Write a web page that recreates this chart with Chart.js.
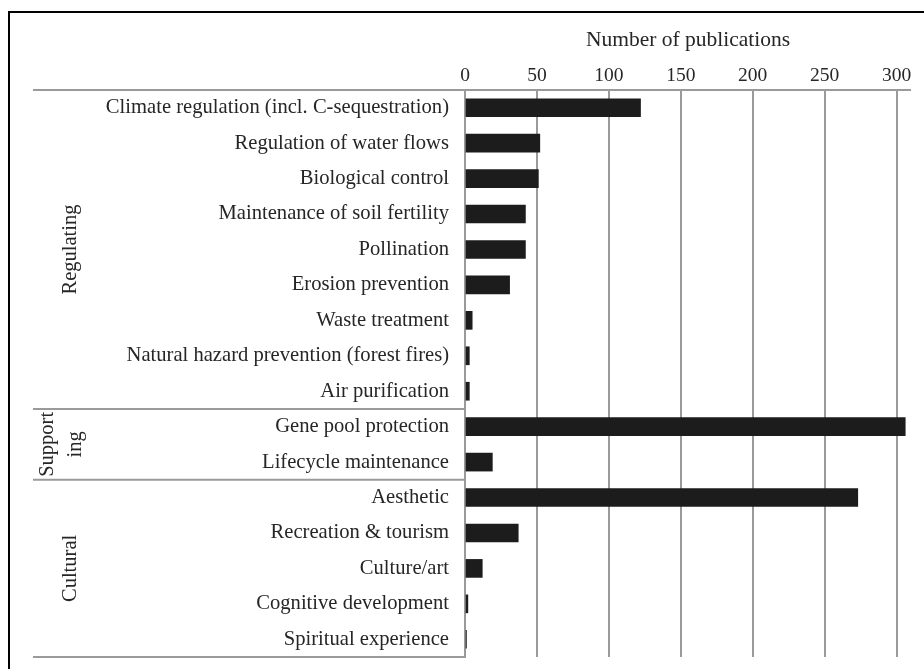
<!DOCTYPE html>
<html>
<head>
<meta charset="utf-8">
<script src="https://cdn.jsdelivr.net/npm/chart.js@4/dist/chart.umd.min.js"></script>
<style>
html,body{margin:0;padding:0;background:#fff;}
canvas{display:block;}
</style>
</head>
<body>
<canvas id="c" width="924" height="669"></canvas>
<script>
const categories = [
  "Climate regulation (incl. C-sequestration)",
  "Regulation of water flows",
  "Biological control",
  "Maintenance of soil fertility",
  "Pollination",
  "Erosion prevention",
  "Waste treatment",
  "Natural hazard prevention (forest fires)",
  "Air purification",
  "Gene pool protection",
  "Lifecycle maintenance",
  "Aesthetic",
  "Recreation & tourism",
  "Culture/art",
  "Cognitive development",
  "Spiritual experience"
];
const publications = [122, 52, 51, 42, 42, 31, 5, 3, 3, 306, 19, 273, 37, 12, 2, 1];
const groupLabels = [["Regulating"], ["Support", "ing"], ["Cultural"]];
const groupSizes = [9, 2, 5];
const xTicks = [0, 50, 100, 150, 200, 250, 300];
const axisTitle = "Number of publications";

const FONT = "'Liberation Serif', 'Times New Roman', serif";
const TEXT = "#262626";
const GRID = "#9a9a9a";

const groupPlugin = {
  id: 'groups',
  afterDraw(chart) {
    const ctx = chart.ctx;
    const y = chart.scales.y;
    const ca = chart.chartArea;
    const lineLeft = 33;
    ctx.save();
    ctx.strokeStyle = '#000';
    ctx.lineWidth = 2;
    ctx.beginPath();
    ctx.moveTo(9, 669); ctx.lineTo(9, 12); ctx.lineTo(924, 12);
    ctx.stroke();
    ctx.strokeStyle = GRID;
    ctx.lineWidth = 2;
    const step = y.getPixelForValue(1) - y.getPixelForValue(0);
    ctx.beginPath();
    ctx.moveTo(lineLeft, ca.top); ctx.lineTo(ca.right, ca.top);
    ctx.stroke();
    let idx = 0;
    ctx.fillStyle = TEXT;
    ctx.font = "20.5px " + FONT;
    ctx.textAlign = 'center';
    ctx.textBaseline = 'middle';
    groupSizes.forEach((n, g) => {
      const top = y.getPixelForValue(idx) - step / 2;
      const bot = y.getPixelForValue(idx + n - 1) + step / 2;
      ctx.beginPath();
      ctx.moveTo(lineLeft, bot); ctx.lineTo(ca.left, bot);
      ctx.stroke();
      const lines = groupLabels[g];
      const cy = (top + bot) / 2;
      ctx.save();
      ctx.translate(lines.length > 1 ? 62 : 71, cy);
      ctx.rotate(-Math.PI / 2);
      lines.forEach((t, i) => {
        ctx.fillText(t, 0, (i - (lines.length - 1) / 2) * 28);
      });
      ctx.restore();
      idx += n;
    });
    ctx.restore();
  }
};

new Chart(document.getElementById('c'), {
  type: 'bar',
  data: {
    labels: categories,
    datasets: [{
      data: publications,
      backgroundColor: '#1c1c1c',
      borderWidth: 0,
      barThickness: 18
    }]
  },
  options: {
    indexAxis: 'y',
    responsive: false,
    animation: false,
    devicePixelRatio: 1,
    layout: { padding: { left: 9, top: 12, right: 13, bottom: 12 } },
    plugins: { legend: { display: false }, tooltip: { enabled: false } },
    scales: {
      x: {
        position: 'top',
        min: 0,
        max: 310,
        afterBuildTicks(scale) { scale.ticks = xTicks.map(v => ({ value: v })); },
        afterFit(scale) { scale.height = 78; scale.paddingLeft = 0; scale.paddingRight = 0; },
        grid: { color: GRID, lineWidth: 2, drawTicks: false },
        border: { display: false },
        ticks: { color: TEXT, font: { family: FONT, size: 19.5 }, padding: 2, maxRotation: 0 },
        title: {
          display: true, text: axisTitle, color: TEXT,
          font: { family: FONT, size: 21.5 }, padding: { top: 15, bottom: 0 }
        }
      },
      y: {
        afterFit(scale) { scale.width = 456; scale.paddingTop = 0; scale.paddingBottom = 0; },
        grid: { display: false, drawTicks: false },
        border: { display: true, color: GRID, width: 2 },
        ticks: { color: TEXT, font: { family: FONT, size: 20.6 }, padding: 16, autoSkip: false }
      }
    }
  },
  plugins: [groupPlugin]
});
</script>
</body>
</html>
